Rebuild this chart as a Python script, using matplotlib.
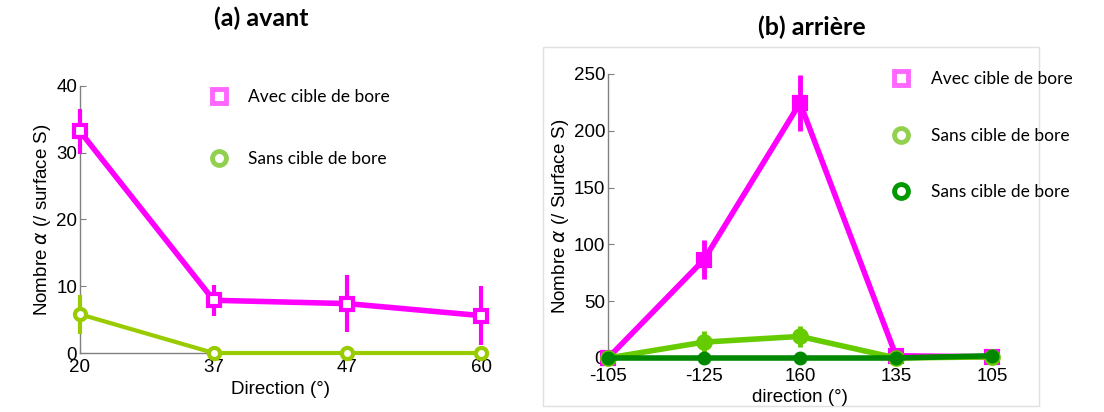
import matplotlib
matplotlib.use("Agg")
import matplotlib.pyplot as plt
from matplotlib.lines import Line2D
from matplotlib.patches import Rectangle

# ---- data ----
cats_a = ["20", "37", "47", "60"]
avec_a = [33.2, 7.9, 7.4, 5.6]
avec_a_err = [3.4, 2.35, 4.3, 4.4]
sans_a = [5.8, 0.0, 0.0, 0.0]
sans_a_err = [2.9, 0.0, 0.0, 0.0]

cats_b = ["-105", "-125", "160", "135", "105"]
avec_b = [0.0, 86.6, 224.5, 2.0, 1.0]
avec_b_err = [0.0, 17.0, 25.0, 0.0, 0.0]
sans1_b = [0.0, 14.0, 19.0, 0.0, 1.0]
sans1_b_err = [0.0, 10.0, 9.0, 0.0, 0.0]
sans2_b = [0.0, 0.0, 0.0, 0.0, 2.0]

yticks_a = [0, 10, 20, 30, 40]
yticks_b = [0, 50, 100, 150, 200, 250]

MAG = "#ff00ff"
MAG_L = "#ff66ff"
LGREEN = "#99cc00"
LGREEN_L = "#92d050"
LGREEN_B = "#66cc00"
DGREEN = "#008800"
DGREEN_L = "#009900"

W, H = 1104, 412
fig = plt.figure(figsize=(W / 100, H / 100), dpi=100)
tickfont = "Liberation Sans"
legfont = "Lato"


def ax_rect(x0, y0, x1, y1):
    return [x0 / W, (H - y1) / H, (x1 - x0) / W, (y1 - y0) / H]


def style(ax, cats, yticks, ylim, xpad):
    ax.set_xlim(0, len(cats) - 1)
    ax.set_ylim(*ylim)
    ax.set_xticks(range(len(cats)))
    ax.set_xticklabels(cats)
    ax.set_yticks(yticks)
    for s in ["top", "right"]:
        ax.spines[s].set_visible(False)
    for s in ["left", "bottom"]:
        ax.spines[s].set_color("#808080")
        ax.spines[s].set_linewidth(1.0)
    ax.tick_params(direction="in", length=4, color="#808080", pad=2,
                   labelsize=13.5)
    ax.tick_params(axis="x", pad=xpad)
    for lab in ax.get_xticklabels() + ax.get_yticklabels():
        lab.set_fontfamily(tickfont)
    ax.set_facecolor("white")


# ---- panel (a) ----
axa = fig.add_axes(ax_rect(80, 86, 481, 353))
xa = list(range(len(cats_a)))
axa.errorbar(xa, sans_a, yerr=sans_a_err, color=LGREEN, lw=3, elinewidth=3,
             capsize=0, marker="o", ms=8, mfc="white", mec=LGREEN, mew=3,
             clip_on=False, zorder=3)
axa.errorbar(xa, avec_a, yerr=avec_a_err, color=MAG, lw=4, elinewidth=3,
             capsize=0, marker="s", ms=9, mfc="white", mec=MAG, mew=3,
             clip_on=False, zorder=4)
style(axa, cats_a, yticks_a, (0, 40), 4)
axa.set_xlabel("Direction (°)", fontsize=13.5, family=tickfont, labelpad=4)
axa.set_ylabel("Nombre $\\alpha$ (/ surface S)", fontsize=13.5,
               family=tickfont, labelpad=2)
h_a = [Line2D([], [], ls="none", marker="s", ms=10, mfc="white", mec=MAG_L, mew=3.5),
       Line2D([], [], ls="none", marker="o", ms=10, mfc="white", mec=LGREEN_L, mew=3.5)]
axa.legend(h_a, ["Avec cible de bore", "Sans cible de bore"], frameon=False,
           loc="upper left", bbox_to_anchor=(0.265, 1.048), labelspacing=2.68,
           handletextpad=0.65, prop={"family": legfont, "size": 12.5})
fig.text(261 / W, 1 - 18 / H, "(a) avant", ha="center", va="center",
         fontsize=18, fontweight="bold", family=legfont)

# ---- panel (b) ----
fig.add_artist(Rectangle((543 / W, (H - 406) / H), (1039 - 543) / W, 359 / H,
                         transform=fig.transFigure, fill=False,
                         edgecolor="#e0e0e0", lw=1, zorder=0))
axb = fig.add_axes(ax_rect(608, 74, 992, 358))
xb = list(range(len(cats_b)))
axb.errorbar(xb, avec_b, yerr=avec_b_err, color=MAG, lw=4, elinewidth=3.5,
             capsize=0, marker="s", ms=9, mfc=MAG, mec=MAG, mew=3,
             clip_on=False, zorder=3)
axb.errorbar(xb, sans1_b, yerr=sans1_b_err, color=LGREEN_B, lw=4, elinewidth=3.5,
             capsize=0, marker="o", ms=9, mfc=LGREEN_B, mec=LGREEN_B, mew=3,
             clip_on=False, zorder=4)
axb.plot(xb, sans2_b, color=DGREEN, lw=4, marker="o", ms=9, mfc=DGREEN,
         mec=DGREEN, clip_on=False, zorder=5)
style(axb, cats_b, yticks_b, (0, 250), 7)
axb.set_xlabel("direction (°)", fontsize=13.5, family=tickfont, labelpad=3)
axb.set_ylabel("Nombre $\\alpha$ (/ Surface S)", fontsize=13.5,
               family=tickfont, labelpad=2)
h_b = [Line2D([], [], ls="none", marker="s", ms=10, mfc="white", mec=MAG_L, mew=3.5),
       Line2D([], [], ls="none", marker="o", ms=10, mfc="white", mec=DGREEN_L if False else LGREEN_L, mew=3.5),
       Line2D([], [], ls="none", marker="o", ms=10, mfc="white", mec=DGREEN_L, mew=3.5)]
axb.legend(h_b, ["Avec cible de bore", "Sans cible de bore", "Sans cible de bore"],
           frameon=False, loc="upper left", bbox_to_anchor=(0.678, 1.065),
           labelspacing=2.33, handletextpad=0.7,
           prop={"family": legfont, "size": 12.5})
fig.text(812 / W, 1 - 27 / H, "(b) arrière", ha="center", va="center",
         fontsize=18, fontweight="bold", family=legfont)

fig.savefig("out.png", dpi=100)
